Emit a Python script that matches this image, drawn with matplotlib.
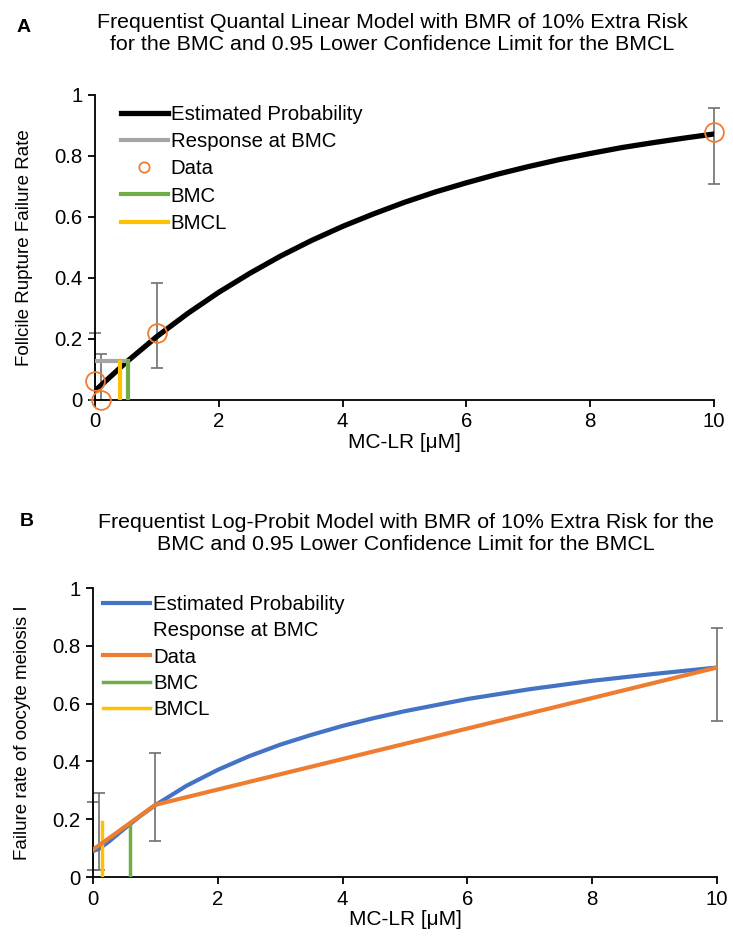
import matplotlib.pyplot as plt
from matplotlib.ticker import FuncFormatter

# Panel A - quantal linear model
dose_a = [0, 0.1, 1, 10]
resp_a = [0.062, 0.0, 0.218, 0.879]
ci_lo_a = [0.0, 0.0, 0.104, 0.707]
ci_hi_a = [0.22, 0.15, 0.384, 0.958]
curve_x_a = [0, 0.5, 1, 1.5, 2, 2.5, 3, 3.5, 4, 4.5, 5, 5.5, 6, 6.5, 7, 7.5, 8, 8.5, 9, 9.5, 10]
curve_y_a = [0.030, 0.123, 0.208, 0.284, 0.353, 0.415, 0.472, 0.523, 0.569, 0.610, 0.648,
             0.682, 0.712, 0.740, 0.765, 0.788, 0.808, 0.827, 0.843, 0.858, 0.872]
bmc_a, bmcl_a, bmc_resp_a = 0.54, 0.40, 0.128

# Panel B - log-probit model
dose_b = [0, 0.1, 1, 10]
resp_b = [0.095, 0.11, 0.25, 0.725]
ci_lo_b = [0.025, 0.025, 0.125, 0.54]
ci_hi_b = [0.26, 0.29, 0.43, 0.86]
curve_x_b = [0, 0.1, 0.25, 0.5, 0.75, 1, 1.5, 2, 2.5, 3, 3.5, 4, 4.5, 5, 6, 7, 8, 9, 10]
curve_y_b = [0.09, 0.098, 0.122, 0.167, 0.210, 0.249, 0.316, 0.371, 0.418, 0.458, 0.492,
             0.523, 0.550, 0.574, 0.616, 0.650, 0.679, 0.703, 0.725]
bmc_b, bmc_h_b = 0.59, 0.175
bmcl_b, bmcl_h_b = 0.14, 0.19

xticks = [0, 2, 4, 6, 8, 10]
yticks = [0, 0.2, 0.4, 0.6, 0.8, 1]

BLUE, ORANGE, GREEN, YELLOW, GRAY = '#4472C4', '#ED7D31', '#70AD47', '#FFC000', '#A5A5A5'
ERR = '#6f6f6f'
FS = 14.7

plt.rcParams['font.family'] = ['Liberation Sans', 'DejaVu Sans']
plt.rcParams['font.size'] = FS

fig = plt.figure(figsize=(7.33, 9.38), dpi=100)
ax1 = fig.add_axes([0.1296, 0.5736, 0.8445, 0.3252])
ax2 = fig.add_axes([0.1269, 0.0650, 0.8513, 0.3081])

fmt = FuncFormatter(lambda v, p: '%g' % v)


def style(ax):
    ax.set_xlim(0, 10)
    ax.set_ylim(0, 1)
    ax.set_xticks(xticks)
    ax.set_yticks(yticks)
    ax.xaxis.set_major_formatter(fmt)
    ax.yaxis.set_major_formatter(fmt)
    for s in ['top', 'right']:
        ax.spines[s].set_visible(False)
    for s in ['left', 'bottom']:
        ax.spines[s].set_linewidth(1.3)
    ax.tick_params(direction='out', length=5, width=1.3, labelsize=FS, pad=4)
    ax.set_xlabel('MC-LR [μM]', fontsize=15, labelpad=1)


# ---- A ----
style(ax1)
ax1.errorbar(dose_a, resp_a,
             yerr=[[r - l for r, l in zip(resp_a, ci_lo_a)], [h - r for r, h in zip(resp_a, ci_hi_a)]],
             fmt='none', ecolor=ERR, elinewidth=1.2, capsize=4, capthick=1.2, zorder=2, clip_on=False)
ax1.plot(curve_x_a, curve_y_a, color='black', lw=3.8, label='Estimated Probability', zorder=3)
ax1.plot([0, bmc_a], [bmc_resp_a, bmc_resp_a], color=GRAY, lw=3, label='Response at BMC', zorder=3)
ax1.plot(dose_a, resp_a, 'o', ms=13.5, mfc='none', mec=ORANGE, mew=1.3, label='Data', zorder=5,
         clip_on=False)
ax1.plot([bmc_a, bmc_a], [0, bmc_resp_a - 0.003], color=GREEN, lw=3, label='BMC', zorder=4)
ax1.plot([bmcl_a, bmcl_a], [0, bmc_resp_a - 0.003], color=YELLOW, lw=3, label='BMCL', zorder=4)
ax1.set_ylabel('Follcile Rupture Failure Rate', fontsize=13.5, labelpad=15)
ax1.legend(loc='upper left', bbox_to_anchor=(0.025, 1.0), frameon=False, fontsize=FS,
           handlelength=2.3, handletextpad=0.15, labelspacing=0.4, borderaxespad=0.1,
           markerscale=0.55)

# ---- B ----
style(ax2)
ax2.errorbar(dose_b, resp_b,
             yerr=[[r - l for r, l in zip(resp_b, ci_lo_b)], [h - r for r, h in zip(resp_b, ci_hi_b)]],
             fmt='none', ecolor=ERR, elinewidth=1.2, capsize=4, capthick=1.2, zorder=2, clip_on=False)
ax2.plot(curve_x_b, curve_y_b, color=BLUE, lw=3, label='Estimated Probability', zorder=3)
ax2.plot([], [], color='none', lw=3, label='Response at BMC')
ax2.plot(dose_b, resp_b, color=ORANGE, lw=3, label='Data', zorder=4)
ax2.plot([bmc_b, bmc_b], [0, bmc_h_b], color=GREEN, lw=2.5, label='BMC', zorder=3)
ax2.plot([bmcl_b, bmcl_b], [0, bmcl_h_b], color=YELLOW, lw=2.5, label='BMCL', zorder=3)
ax2.set_ylabel('Failure rate of oocyte meiosis I', fontsize=13.5, labelpad=15)
ax2.legend(loc='upper left', bbox_to_anchor=(0.0, 1.01), frameon=False, fontsize=FS,
           handlelength=2.3, handletextpad=0.15, labelspacing=0.35, borderaxespad=0.1)

# titles and panel letters
fig.text(392 / 733, 1 - 34 / 938,
         'Frequentist Quantal Linear Model with BMR of 10% Extra Risk\n'
         'for the BMC and 0.95 Lower Confidence Limit for the BMCL',
         ha='center', va='center', fontsize=15.4, linespacing=1.2)
fig.text(406 / 733, 1 - 533 / 938,
         'Frequentist Log-Probit Model with BMR of 10% Extra Risk for the\n'
         'BMC and 0.95 Lower Confidence Limit for the BMCL',
         ha='center', va='center', fontsize=15.4, linespacing=1.2)
fig.text(24 / 733, 1 - 27 / 938, 'A', ha='center', va='center', fontsize=14, fontweight='bold')
fig.text(27 / 733, 1 - 521 / 938, 'B', ha='center', va='center', fontsize=14, fontweight='bold')

fig.savefig('out.png', dpi=100)
